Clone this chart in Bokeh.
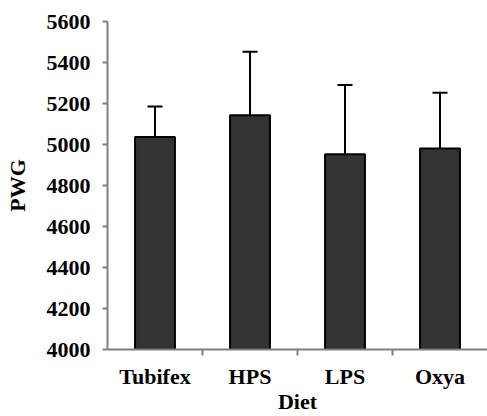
from bokeh.plotting import figure
from bokeh.models import Range1d, FixedTicker, ColumnDataSource, Whisker, TeeHead
from bokeh.embed import file_html
from bokeh.resources import INLINE

categories = ["Tubifex", "HPS", "LPS", "Oxya"]
pwg_mean = [5037, 5143, 4952, 4981]
pwg_sd = [148, 310, 338, 272]
y_ticks = [4000, 4200, 4400, 4600, 4800, 5000, 5200, 5400, 5600]

x_pos = [i + 0.5 for i in range(len(categories))]
src = ColumnDataSource(data=dict(
    x=x_pos,
    top=pwg_mean,
    upper=[m + s for m, s in zip(pwg_mean, pwg_sd)],
    lower=[m - s for m, s in zip(pwg_mean, pwg_sd)],
))

FONT = "Liberation Serif"

p = figure(width=487, height=416, output_backend="svg", toolbar_location=None,
           x_range=Range1d(0, len(categories)), y_range=Range1d(4000, 5600),
           min_border_left=107, min_border_right=0, min_border_top=21, min_border_bottom=10)
p.outline_line_color = None
p.xgrid.visible = False
p.ygrid.visible = False

p.vbar(x="x", top="top", bottom=4000, width=0.42, source=src,
       fill_color="#333333", line_color="black", line_width=2)

w = Whisker(base="x", upper="upper", lower="lower", source=src,
            line_color="black", line_width=2,
            upper_head=TeeHead(size=15, line_color="black", line_width=2),
            lower_head=TeeHead(size=15, line_color="black", line_width=2))
p.add_layout(w)

# x axis
p.xaxis.ticker = FixedTicker(ticks=x_pos, minor_ticks=[1, 2, 3])
p.xaxis.major_label_overrides = {x: c for x, c in zip(x_pos, categories)}
p.xaxis.major_tick_out = 0
p.xaxis.major_tick_in = 0
p.xaxis.minor_tick_out = 6
p.xaxis.minor_tick_in = 0
p.xaxis.minor_tick_line_color = "#808080"
p.xaxis.minor_tick_line_width = 2
p.xaxis.axis_line_color = "#808080"
p.xaxis.axis_line_width = 2
p.xaxis.major_label_text_font = FONT
p.xaxis.major_label_text_font_style = "bold"
p.xaxis.major_label_text_font_size = "22px"
p.xaxis.major_label_text_color = "black"
p.xaxis.major_label_standoff = 8
p.xaxis.axis_label = "Diet"
p.xaxis.axis_label_text_font = FONT
p.xaxis.axis_label_text_font_style = "bold"
p.xaxis.axis_label_text_font_size = "22px"
p.xaxis.axis_label_text_color = "black"
p.xaxis.axis_label_standoff = -3

# y axis
p.yaxis.ticker = FixedTicker(ticks=y_ticks)
p.yaxis.major_tick_out = 5
p.yaxis.major_tick_in = 0
p.yaxis.minor_tick_out = 0
p.yaxis.minor_tick_in = 0
p.yaxis.major_tick_line_color = "#808080"
p.yaxis.major_tick_line_width = 2
p.yaxis.axis_line_color = "#808080"
p.yaxis.axis_line_width = 2
p.yaxis.major_label_text_font = FONT
p.yaxis.major_label_text_font_style = "bold"
p.yaxis.major_label_text_font_size = "22px"
p.yaxis.major_label_text_color = "black"
p.yaxis.major_label_standoff = 12
p.yaxis.axis_label = "PWG"
p.yaxis.axis_label_text_font = FONT
p.yaxis.axis_label_text_font_style = "bold"
p.yaxis.axis_label_text_font_size = "22px"
p.yaxis.axis_label_text_color = "black"
p.yaxis.axis_label_standoff = 14

open("out.html", "w").write(file_html(p, INLINE))
